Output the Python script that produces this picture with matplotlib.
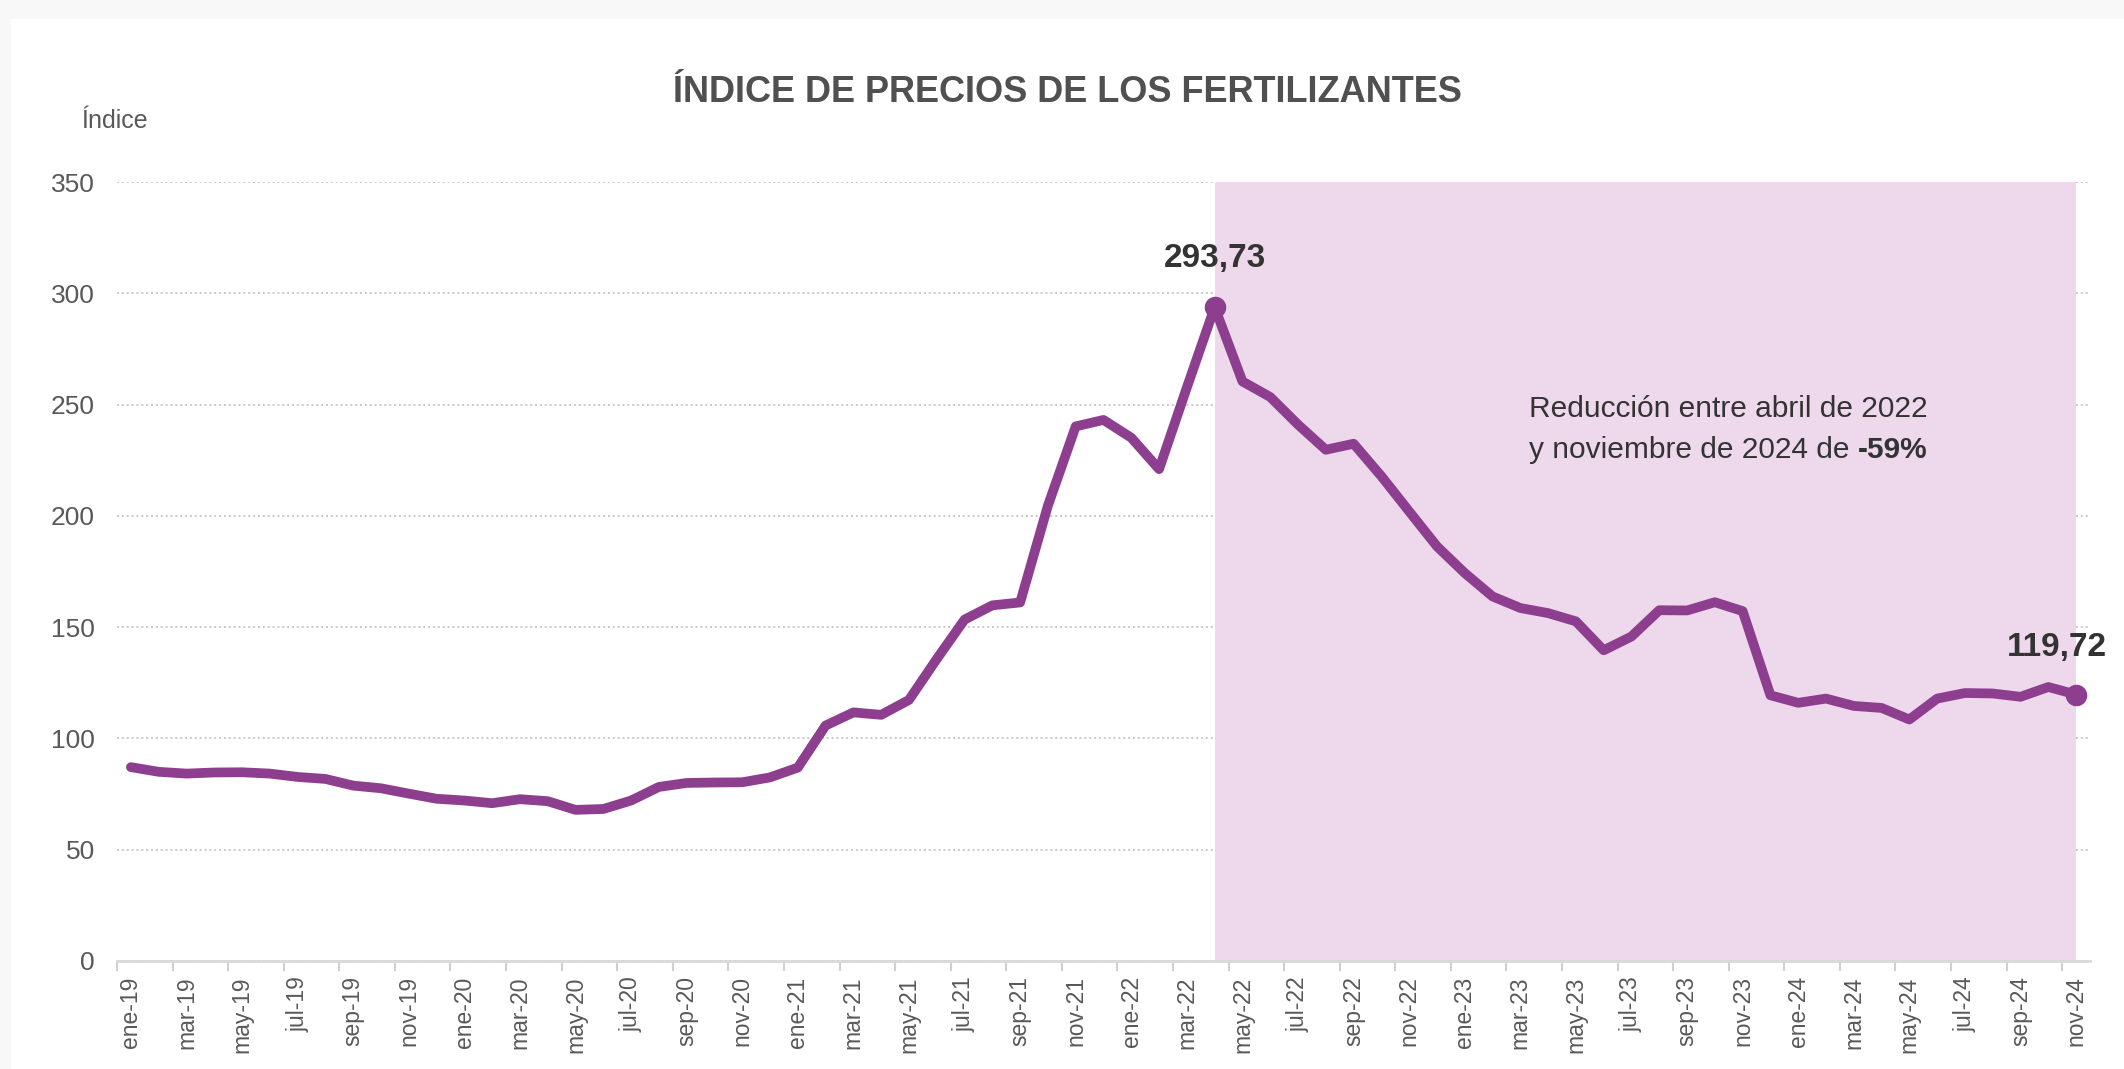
import matplotlib
matplotlib.use('Agg')
import matplotlib.pyplot as plt
from matplotlib.patches import Rectangle
from matplotlib.ticker import FixedLocator, NullFormatter

plt.rcParams['font.family'] = ['Liberation Sans', 'DejaVu Sans']

# monthly fertilizer price index, ene-19 .. nov-24
meses = ['ene', 'feb', 'mar', 'abr', 'may', 'jun', 'jul', 'ago', 'sep', 'oct', 'nov', 'dic']
years = ['19', '20', '21', '22', '23', '24']
periods = [m + '-' + y for y in years for m in meses][:71]

values = [
    87.1, 85.0, 84.2, 84.7, 84.8, 84.2, 82.7, 81.8, 78.8, 77.6, 75.2, 72.9,
    72.1, 70.9, 72.7, 71.8, 67.9, 68.3, 72.1, 78.2, 80.0, 80.2, 80.3, 82.5,
    86.9, 105.8, 111.7, 110.6, 117.3, 135.7, 153.4, 159.8, 161.1, 204.6, 240.2, 243.1,
    235.1, 221.0, 257.7, 293.73, 260.4, 253.4, 241.0, 229.7, 232.4, 217.8, 202.0, 186.3,
    174.3, 163.8, 158.6, 156.3, 152.6, 139.6, 145.8, 157.6, 157.5, 161.2, 157.2, 119.4,
    116.0, 117.9, 114.6, 113.7, 108.5, 117.9, 120.4, 120.2, 118.7, 123.1, 119.72,
]

peak_label = '293,73'
last_label = '119,72'
y_ticks = [0, 50, 100, 150, 200, 250, 300, 350]

purple = '#8E3E8F'
shade = '#EDD8EC'
gray_txt = '#595959'
dark_txt = '#333333'

fig = plt.figure(figsize=(21.24, 10.69), dpi=100)
fig.patch.set_facecolor('#F8F8F8')
fig.patches.append(Rectangle((11 / 2124, 0), 1, 1 - 19 / 1069, transform=fig.transFigure,
                             facecolor='white', edgecolor='none', zorder=-5))

ax = fig.add_axes([117 / 2124, 1 - 961 / 1069, (2090 - 117) / 2124, (961 - 182) / 1069])
ax.set_facecolor('none')
ax.set_zorder(2)

x = list(range(len(values)))
i_peak = values.index(max(values))
i_last = len(values) - 1

ax.axvspan(i_peak, i_last, ymin=0, ymax=1, color=shade, zorder=1, lw=0)
ax.plot(x, values, color=purple, lw=7, zorder=3, solid_joinstyle='round', solid_capstyle='round')
ax.plot([i_peak, i_last], [values[i_peak], values[i_last]], 'o', color=purple, ms=14.5, zorder=4)

ax.set_xlim(-0.5, len(values) - 0.5)
ax.set_ylim(0, 350)
ax.set_yticks(y_ticks)
ax.yaxis.grid(True, linestyle=(0, (1, 1.5)), color='#C8C8C8', lw=1.4, zorder=0)
ax.set_axisbelow(True)

ax.xaxis.set_major_locator(FixedLocator(x[::2]))
ax.set_xticklabels(periods[::2], rotation=90, fontsize=16.5, color=gray_txt)
ax.xaxis.set_minor_locator(FixedLocator([i - 0.5 for i in x[::2]]))
ax.xaxis.set_minor_formatter(NullFormatter())
ax.tick_params(axis='x', which='major', length=0, pad=11)
ax.tick_params(axis='x', which='minor', length=7, width=1.5, color='#D0D0D0')
ax.tick_params(axis='y', length=0, labelsize=19, labelcolor=gray_txt, pad=16)

for s in ['top', 'right', 'left']:
    ax.spines[s].set_visible(False)
ax.spines['bottom'].set_color('#D9D9D9')
ax.spines['bottom'].set_linewidth(2)
ax.spines['bottom'].set_zorder(2)

fig.text(1067 / 2124, 1 - 93 / 1069, 'ÍNDICE DE PRECIOS DE LOS FERTILIZANTES',
         ha='center', va='center', fontsize=26, fontweight='bold', color='#505050')
fig.text(81 / 2124, 1 - 121 / 1069, 'Índice', ha='left', va='center', fontsize=18, color=gray_txt)

ax.annotate(peak_label, (i_peak, values[i_peak]), xytext=(0, 35), textcoords='offset points',
            ha='center', va='center', fontsize=24, fontweight='bold', color=dark_txt)
ax.annotate(last_label, (i_last, values[i_last]), xytext=(-14, 34), textcoords='offset points',
            ha='center', va='center', fontsize=24, fontweight='bold', color=dark_txt)

t1 = ax.text(50.3, 248, 'Reducción entre abril de 2022', ha='left', va='center',
             fontsize=21.5, color=dark_txt, zorder=5)
t2 = ax.text(50.3, 229.5, 'y noviembre de 2024 de ', ha='left', va='center',
             fontsize=21.5, color=dark_txt, zorder=5)
ax.annotate('-59%', xy=(1, 0), xycoords=t2, ha='left', va='bottom',
            fontsize=21.5, fontweight='bold', color=dark_txt, zorder=5)

fig.savefig('out.png', dpi=100, facecolor=fig.get_facecolor())
